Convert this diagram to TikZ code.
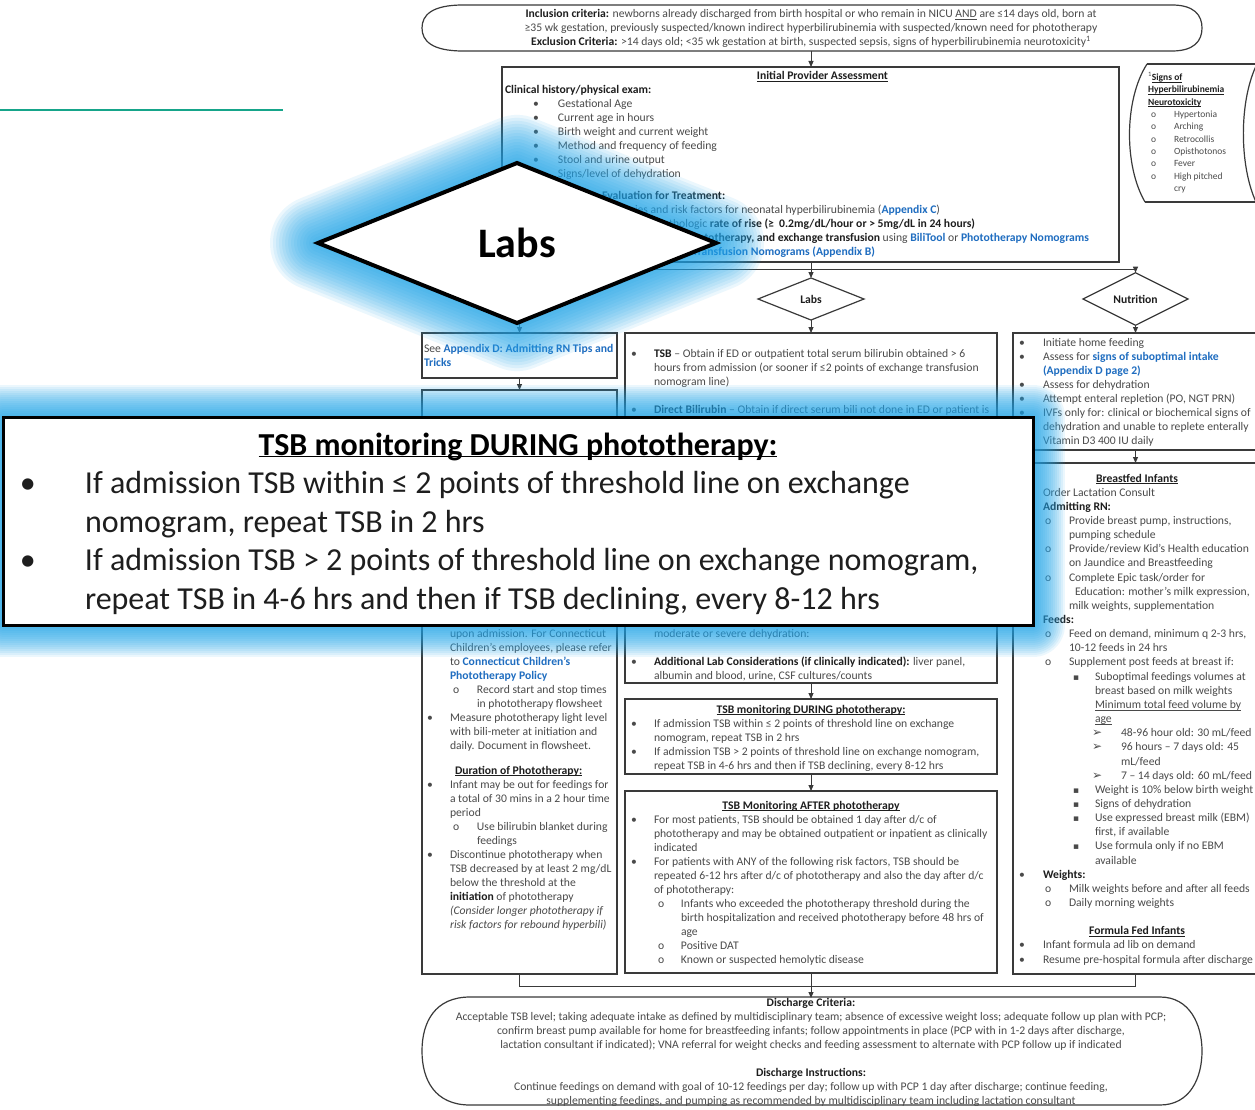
\documentclass[tikz,border=0pt]{standalone}
\usepackage{fontspec}
\setmainfont{Carlito}
\newfontfamily\djv{DejaVu Sans}
\usetikzlibrary{arrows.meta,shapes.geometric}
\definecolor{tx}{HTML}{4A4A4A}
\definecolor{hd}{HTML}{1E1E1E}
\definecolor{lk}{HTML}{1F6DC0}
\definecolor{ln}{HTML}{3A3A3A}
\definecolor{glow}{RGB}{30,165,235}
\definecolor{grn}{HTML}{16A58A}
\newcommand\B[1]{{\bfseries\color{hd}#1}}
\newcommand\U[1]{{\bfseries\color{lk}#1}}
\newcommand\ul[1]{\underline{\smash{#1}}}
\newcommand\Ln[4]{\hbox{\hspace*{#1pt}\rlap{#3}\hspace*{\dimexpr #2pt-#1pt\relax}#4}}
\newcommand\Ct[2]{\hbox to #1pt{\hfil#2\hfil}}
\newcommand\Rt[2]{\hbox to #1pt{\hfill#2}}
\newcommand\Gap[1]{\vskip #1pt}
\newcommand\Bl{\hbox{}}
\newcommand\Blk[1]{\vtop{\lineskiplimit=-100pt\relax#1}}
\newcommand\sq{{\djv\fontsize{9}{9}\selectfont ▪}}
\newcommand\arw{{\djv\fontsize{12}{12}\selectfont ➢}}
\tikzset{
 bx/.style={draw=ln, line width=1.2pt, inner sep=0pt, outer sep=0pt, anchor=north west},
 dmd/.style={diamond, draw=ln, line width=1.2pt, inner sep=0pt, outer sep=0pt, font=\fontsize{11.65}{14}\selectfont\bfseries, text=hd},
 blk/.style={anchor=base west, inner sep=0pt, outer sep=0pt, text=tx, font=\fontsize{11.65}{14}\selectfont},
 con/.style={draw=ln, line width=0.9pt},
 arr/.style={con, -{Triangle[length=6pt,width=5pt]}},
 term/.style={draw=ln, line width=1.2pt},
 glw/.style={draw=glow, opacity=0.085, line join=round},
}
\begin{document}
\begin{tikzpicture}[x=1pt,y=-1pt]
\fill[white] (0,0) rectangle (1255,1110);
\useasboundingbox (0,0) rectangle (1255,1110);

% green rule
\draw[grn, line width=1.5pt] (0,110) -- (283,110);

% top terminator
\draw[term] (463,5) -- (1172,5) .. controls (1194,5) and (1202,15) .. (1202,28) .. controls (1202,41) and (1194,51) .. (1172,51) -- (463,51) .. controls (432,51) and (422,41) .. (422,28) .. controls (422,15) and (432,5) .. (463,5) -- cycle;
\coordinate (tb) at (811,51);
\node[blk] (topT) at (422,18) {\Blk{%
\Ct{778}{\B{Inclusion criteria:} newborns already discharged from birth hospital or who remain in NICU \underline{AND} are ≤14 days old, born at}
\Ct{778}{≥35 wk gestation, previously suspected/known indirect hyperbilirubinemia with suspected/known need for phototherapy}
\Ct{778}{\B{Exclusion Criteria:} >14 days old; <35 wk gestation at birth, suspected sepsis, signs of hyperbilirubinemia neurotoxicity\textsuperscript{1}}}};

% boxes
\node[bx, minimum width=617pt, minimum height=195pt] (assess) at (502,67) {};
\node[bx, minimum width=195pt, minimum height=45pt] (seeD) at (422,333) {};
\node[bx, minimum width=195pt, minimum height=584pt] (leftB) at (422,390) {};
\node[bx, minimum width=372pt, minimum height=350pt] (labsB) at (625,333) {};
\node[bx, minimum width=372pt, minimum height=75pt] (during) at (625,699) {};
\node[bx, minimum width=372pt, minimum height=182pt] (after) at (625,791) {};
\node[bx, minimum width=245pt, minimum height=117pt] (nutB) at (1013,333) {};
\node[bx, minimum width=245pt, minimum height=511pt] (rightB) at (1013,463) {};
\node[dmd, minimum width=106pt, minimum height=42pt] (labsD) at (811,299) {Labs};
\node[dmd, minimum width=105pt, minimum height=42pt] (nutD) at (1135.5,299) {Nutrition};

% signs box
\draw[term] (1147,64) -- (1258,64);
\draw[term] (1145,202) -- (1258,202);
\draw[term] (1147,64) .. controls (1124,100) and (1124,166) .. (1145,202);
\draw[term] (1257,64) .. controls (1239,100) and (1239,165) .. (1256,202);

% discharge terminator
\draw[term] (470,997) -- (1160,997) .. controls (1190,997) and (1202,1025) .. (1202,1051) .. controls (1202,1078) and (1190,1105) .. (1160,1105) -- (470,1105) .. controls (435,1105) and (422,1080) .. (422,1051) .. controls (422,1022) and (435,997) .. (470,997) -- cycle;
\coordinate (dt) at (811,998);

% connectors
\draw[arr] (tb) -- (tb |- assess.north);
\coordinate (jL) at (519.5,269);
\coordinate (jR) at (1135.5,269);
\draw[arr] (labsD.north |- assess.south) -- (labsD.north);
\draw[con] (jL) -- (jR);
\draw[arr] (jL) -- (seeD.north);
\draw[arr] (jR) -- (nutD.north);
\draw[arr] (labsD.south) -- (labsB.north);
\draw[arr] (nutD.south) -- (nutB.north);
\draw[arr] (seeD.south) -- (leftB.north);
\draw[arr] (labsB.south) -- (during.north);
\draw[arr] (during.south) -- (after.north);
\draw[arr] (nutB.south) -- (rightB.north);
\coordinate (bL) at (519.5,986);
\coordinate (bR) at (1135.5,986);
\coordinate (bM) at (811,986);
\draw[con] (leftB.south) -- (bL) -- (bR) -- (rightB.south);
\draw[con] (after.south) -- (bM);
\draw[arr] (bM) -- (dt);

% assessment text
\node[blk] (assessT) at (502,80) {\Blk{%
\Ct{641}{\B{\ul{Initial Provider Assessment}}}
\Ln{0}{3}{}{\B{Clinical history/physical exam:}}
\Ln{31}{56}{•}{Gestational Age}
\Ln{31}{56}{•}{Current age in hours}
\Ln{31}{56}{•}{Birth weight and current weight}
\Ln{31}{56}{•}{Method and frequency of feeding}
\Ln{31}{56}{•}{Stool and urine output}
\Ln{31}{56}{•}{Signs/level of dehydration}
\Gap{8}
\Ln{0}{100}{}{\B{Evaluation for Treatment:}}
\Rt{438}{Identify etiologies and risk factors for neonatal hyperbilirubinemia (\U{Appendix C})}
\Rt{473}{Assess for pathologic \B{rate of rise (≥ \ 0.2mg/dL/hour or > 5mg/dL in 24 hours)}}
\Rt{587}{\B{Determine need for phototherapy, and exchange transfusion} using \U{BiliTool} or \U{Phototherapy Nomograms}}
\Rt{373}{\U{and Exchange Transfusion Nomograms (Appendix B)}}}};

% signs text
\node[blk, font=\fontsize{9.5}{12.35}\selectfont] (signsT) at (1148,80.5) {\Blk{%
\Ln{0}{0}{}{\textsuperscript{1}\B{\ul{Signs of}}}
\Ln{0}{0}{}{\B{\ul{Hyperbilirubinemia}}}
\Ln{0}{0}{}{\B{\ul{Neurotoxicity}}}
\Ln{3}{26}{o}{Hypertonia}
\Ln{3}{26}{o}{Arching}
\Ln{3}{26}{o}{Retrocollis}
\Ln{3}{26}{o}{Opisthotonos}
\Ln{3}{26}{o}{Fever}
\Ln{3}{26}{o}{High pitched}
\Ln{3}{26}{}{cry}}};

% see appendix
\node[blk] (seeT) at (422,352) {\Blk{%
\Ln{0}{2}{}{See \U{Appendix D: Admitting RN Tips and}}
\Ln{0}{2}{}{\U{Tricks}}}};

% left big box text
\node[blk] (leftT) at (422,637) {\Blk{%
\Ln{5}{28}{}{upon admission. For Connecticut}
\Ln{5}{28}{}{Children’s employees, please refer}
\Ln{5}{28}{}{to \U{Connecticut Children’s}}
\Ln{5}{28}{}{\U{Phototherapy Policy}}
\Ln{31}{55}{o}{Record start and stop times}
\Ln{31}{55}{}{in phototherapy flowsheet}
\Ln{5}{28}{•}{Measure phototherapy light level}
\Ln{5}{28}{}{with bili-meter at initiation and}
\Ln{5}{28}{}{daily. Document in flowsheet.}
\Gap{11}
\Ln{0}{33}{}{\B{\ul{Duration of Phototherapy:}}}
\Ln{5}{28}{•}{Infant may be out for feedings for}
\Ln{5}{28}{}{a total of 30 mins in a 2 hour time}
\Ln{5}{28}{}{period}
\Ln{31}{55}{o}{Use bilirubin blanket during}
\Ln{31}{55}{}{feedings}
\Ln{5}{28}{•}{Discontinue phototherapy when}
\Ln{5}{28}{}{TSB decreased by at least 2 mg/dL}
\Ln{5}{28}{}{below the threshold at the}
\Ln{5}{28}{}{\B{initiation} of phototherapy}
\Ln{5}{28}{}{\textit{(Consider longer phototherapy if}}
\Ln{5}{28}{}{\textit{risk factors for rebound hyperbili)}}}};

% labs box text
\node[blk] (labsT) at (625,357) {\Blk{%
\Ln{6}{29}{•}{\B{TSB} – Obtain if ED or outpatient total serum bilirubin obtained > 6}
\Ln{6}{29}{}{hours from admission (or sooner if ≤2 points of exchange transfusion}
\Ln{6}{29}{}{nomogram line)}
\Bl
\Ln{6}{29}{•}{\B{Direct Bilirubin} – Obtain if direct serum bili not done in ED or patient is}
\Gap{210}
\Ln{6}{29}{}{moderate or severe dehydration:}
\Bl
\Ln{6}{29}{•}{\B{Additional Lab Considerations (if clinically indicated):} liver panel,}
\Ln{6}{29}{}{albumin and blood, urine, CSF cultures/counts}}};

% during text
\node[blk] (duringT) at (625,713) {\Blk{%
\Ct{372}{\B{\ul{TSB monitoring DURING phototherapy:}}}
\Ln{6}{29}{•}{If admission TSB within ≤ 2 points of threshold line on exchange}
\Ln{6}{29}{}{nomogram, repeat TSB in 2 hrs}
\Ln{6}{29}{•}{If admission TSB > 2 points of threshold line on exchange nomogram,}
\Ln{6}{29}{}{repeat TSB in 4-6 hrs and then if TSB declining, every 8-12 hrs}}};

% after text
\node[blk] (afterT) at (625,809) {\Blk{%
\Ct{372}{\B{\ul{TSB Monitoring AFTER phototherapy}}}
\Ln{6}{29}{•}{For most patients, TSB should be obtained 1 day after d/c of}
\Ln{6}{29}{}{phototherapy and may be obtained outpatient or inpatient as clinically}
\Ln{6}{29}{}{indicated}
\Ln{6}{29}{•}{For patients with ANY of the following risk factors, TSB should be}
\Ln{6}{29}{}{repeated 6-12 hrs after d/c of phototherapy and also the day after d/c}
\Ln{6}{29}{}{of phototherapy:}
\Ln{33}{56}{o}{Infants who exceeded the phototherapy threshold during the}
\Ln{33}{56}{}{birth hospitalization and received phototherapy before 48 hrs of}
\Ln{33}{56}{}{age}
\Ln{33}{56}{o}{Positive DAT}
\Ln{33}{56}{o}{Known or suspected hemolytic disease}}};

% nutrition text
\node[blk] (nutT) at (1013,346) {\Blk{%
\Ln{6}{30}{•}{Initiate home feeding}
\Ln{6}{30}{•}{Assess for \U{signs of suboptimal intake}}
\Ln{6}{30}{}{\U{(Appendix D page 2)}}
\Ln{6}{30}{•}{Assess for dehydration}
\Ln{6}{30}{•}{Attempt enteral repletion (PO, NGT PRN)}
\Ln{6}{30}{•}{IVFs only for: clinical or biochemical signs of}
\Ln{6}{30}{}{dehydration and unable to replete enterally}
\Ln{6}{30}{•}{Vitamin D3 400 IU daily}}};

% right big text
\node[blk, font=\fontsize{11.65}{14.15}\selectfont] (rightT) at (1013,482) {\Blk{%
\Ct{248}{\B{\ul{Breastfed Infants}}}
\Ln{0}{30}{}{Order Lactation Consult}
\Ln{0}{30}{}{\B{Admitting RN:}}
\Ln{32}{56}{o}{Provide breast pump, instructions,}
\Ln{32}{56}{}{pumping schedule}
\Ln{32}{56}{o}{Provide/review Kid’s Health education}
\Ln{32}{56}{}{on Jaundice and Breastfeeding}
\Ln{32}{56}{o}{Complete Epic task/order for}
\Ln{32}{62}{}{Education: mother’s milk expression,}
\Ln{32}{56}{}{milk weights, supplementation}
\Ln{0}{30}{}{\B{Feeds:}}
\Ln{32}{56}{o}{Feed on demand, minimum q 2-3 hrs,}
\Ln{32}{56}{}{10-12 feeds in 24 hrs}
\Ln{32}{56}{o}{Supplement post feeds at breast if:}
\Ln{60}{82}{\sq}{Suboptimal feedings volumes at}
\Ln{60}{82}{}{breast based on milk weights}
\Ln{60}{82}{}{\ul{Minimum total feed volume by}}
\Ln{60}{82}{}{\ul{age}}
\Ln{79}{108}{\arw}{48-96 hour old: 30 mL/feed}
\Ln{79}{108}{\arw}{96 hours – 7 days old: 45}
\Ln{79}{108}{}{mL/feed}
\Ln{79}{108}{\arw}{7 – 14 days old: 60 mL/feed}
\Ln{60}{82}{\sq}{Weight is 10\% below birth weight}
\Ln{60}{82}{\sq}{Signs of dehydration}
\Ln{60}{82}{\sq}{Use expressed breast milk (EBM)}
\Ln{60}{82}{}{first, if available}
\Ln{60}{82}{\sq}{Use formula only if no EBM}
\Ln{60}{82}{}{available}
\Ln{6}{30}{•}{\B{Weights:}}
\Ln{32}{56}{o}{Milk weights before and after all feeds}
\Ln{32}{56}{o}{Daily morning weights}
\Bl
\Ct{248}{\B{\ul{Formula Fed Infants}}}
\Ln{6}{30}{•}{Infant formula ad lib on demand}
\Ln{6}{30}{•}{Resume pre-hospital formula after discharge}}};

% discharge text
\node[blk] (disT) at (422,1006) {\Blk{%
\Ct{778}{\B{Discharge Criteria:}}
\Ct{778}{Acceptable TSB level; taking adequate intake as defined by multidisciplinary team; absence of excessive weight loss; adequate follow up plan with PCP;}
\Ct{778}{confirm breast pump available for home for breastfeeding infants; follow appointments in place (PCP with in 1-2 days after discharge,}
\Ct{778}{lactation consultant if indicated); VNA referral for weight checks and feeding assessment to alternate with PCP follow up if indicated}
\Bl
\Ct{778}{\B{Discharge Instructions:}}
\Ct{778}{Continue feedings on demand with goal of 10-12 feedings per day; follow up with PCP 1 day after discharge; continue feeding,}
\Ct{778}{supplementing feedings, and pumping as recommended by multidisciplinary team including lactation consultant}}};

% ===== overlay: glows =====
\foreach \w in {6,12,...,96} \draw[glw, line width=\w pt] (517,163) -- (716,243) -- (517,323) -- (318,243) -- cycle;
\foreach \w in {4,8,...,64} \draw[glw, line width=\w pt] (3,417) rectangle (1033,625);

% overlay magnified diamond
\node[diamond, draw=black, line width=4pt, fill=white, minimum width=398pt, minimum height=160pt, inner sep=0pt, outer sep=0pt, font=\fontsize{42}{50}\selectfont\bfseries, text=black] (bigLabs) at (517,243) {Labs};

% overlay magnified box
\node[bx, draw=black, line width=3pt, fill=white, minimum width=1030pt, minimum height=208pt] (bigBox) at (3,417) {};
\node[blk, text=hd, font=\fontsize{32}{38.6}\selectfont] (bigT) at (3,455) {\Blk{%
\Ct{1030}{\bfseries\color{black}\ul{TSB monitoring DURING phototherapy:}}
\Ln{17}{82}{•}{If admission TSB within ≤ 2 points of threshold line on exchange}
\Ln{17}{82}{}{nomogram, repeat TSB in 2 hrs}
\Ln{17}{82}{•}{If admission TSB > 2 points of threshold line on exchange nomogram,}
\Ln{17}{82}{}{repeat TSB in 4-6 hrs and then if TSB declining, every 8-12 hrs}}};
\end{tikzpicture}
\end{document}
